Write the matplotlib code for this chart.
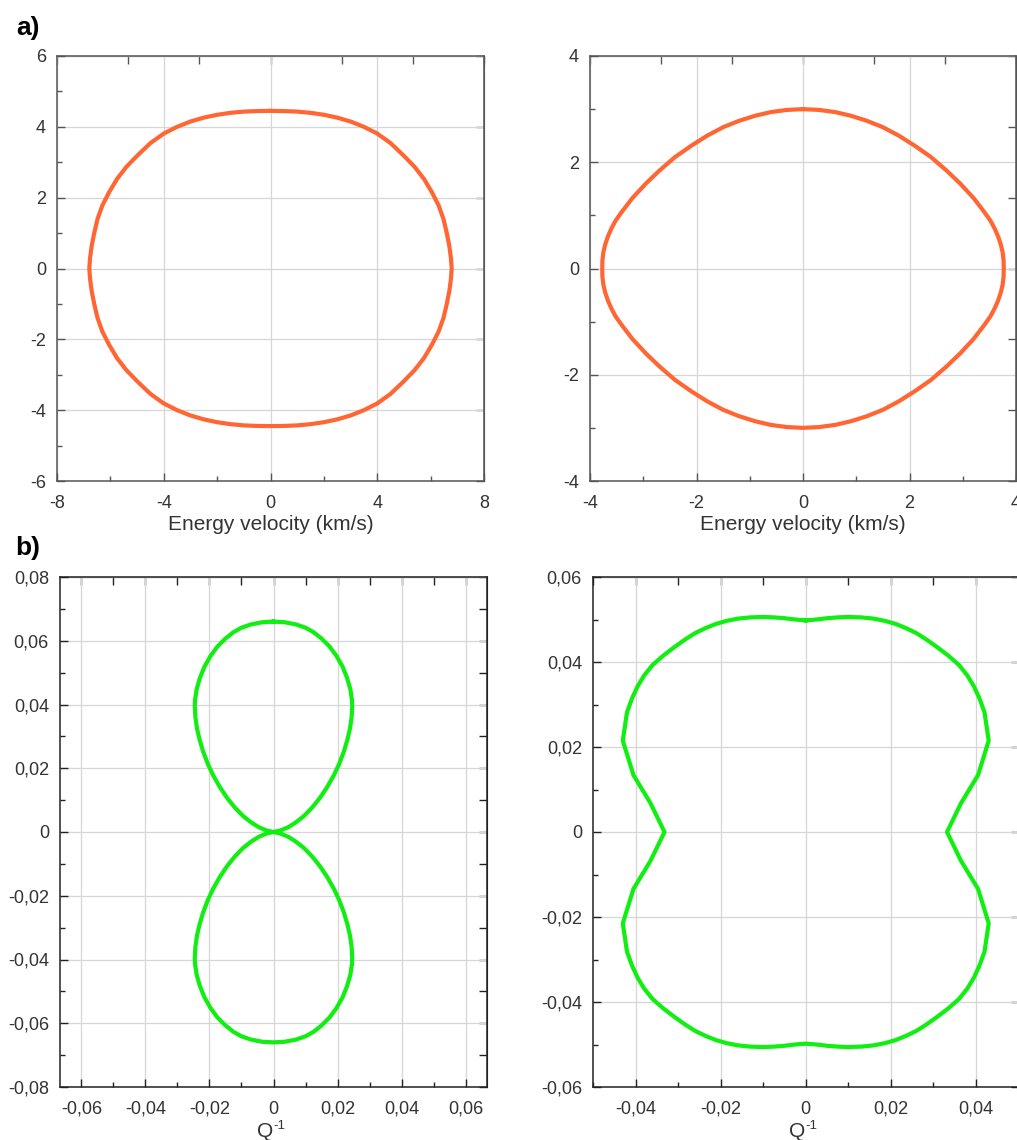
import numpy as np
import matplotlib
matplotlib.use("Agg")
import matplotlib.pyplot as plt
from matplotlib.ticker import MultipleLocator, NullFormatter

plt.rcParams['font.family'] = ['Liberation Sans', 'DejaVu Sans']
plt.rcParams['axes.unicode_minus'] = False

# figure size in pixels
W, H = 1017, 1140

# --- data (first quadrant, from top point down to the x axis) ---
# a) energy velocity, left panel (km/s)
vel_left_x = [0.0, 0.5, 1.0, 1.5, 2.0, 2.5, 3.0, 3.5, 4.0, 4.5, 5.0, 5.4, 5.75,
              6.05, 6.3, 6.48, 6.6, 6.7, 6.76, 6.79]
vel_left_y = [4.45, 4.445, 4.43, 4.395, 4.34, 4.26, 4.15, 4.0, 3.81, 3.54, 3.18, 2.87, 2.53,
              2.15, 1.78, 1.4, 1.02, 0.64, 0.3, 0.0]

# a) energy velocity, right panel (km/s)
vel_right_x = [0.0, 0.3, 0.6, 0.9, 1.2, 1.5, 1.8, 2.1, 2.4, 2.7, 2.95, 3.2, 3.4,
               3.52, 3.6, 3.665, 3.715, 3.75, 3.767, 3.77]
vel_right_y = [3.0, 2.985, 2.945, 2.875, 2.78, 2.66, 2.5, 2.31, 2.1, 1.84, 1.6, 1.33, 1.07,
               0.9, 0.75, 0.6, 0.45, 0.3, 0.15, 0.0]

# b) quality factor Q^-1, left panel (figure-eight, upper right half)
q_left_x = [0.0, 0.0036, 0.0071, 0.0100, 0.0125, 0.0150, 0.0175, 0.0197, 0.0216,
            0.0230, 0.0240, 0.0245, 0.0246, 0.0244, 0.0239, 0.0231, 0.0220, 0.0205,
            0.0188, 0.0167, 0.0145, 0.0121, 0.0096, 0.0071, 0.0046, 0.0022, 0.0]
q_left_y = [0.0660, 0.0658, 0.0651, 0.0641, 0.0627, 0.0607, 0.0582, 0.0552, 0.0518,
            0.0483, 0.0448, 0.0415, 0.0395, 0.0360, 0.0325, 0.0290, 0.0253, 0.0213,
            0.0177, 0.0140, 0.0107, 0.0077, 0.0051, 0.0031, 0.0015, 0.0005, 0.0]

# b) quality factor Q^-1, right panel
q_right_x = [0.0, 0.0025, 0.005, 0.0075, 0.010, 0.013, 0.016, 0.0185, 0.021, 0.0235,
             0.026, 0.0285, 0.031, 0.0335, 0.036, 0.038, 0.0395, 0.0408, 0.042,
             0.043, 0.0405, 0.0365, 0.0332]
q_right_y = [0.0498, 0.0500, 0.0503, 0.0505, 0.0506, 0.0505, 0.0502, 0.0497, 0.0490, 0.0480,
             0.0468, 0.0452, 0.0434, 0.0415, 0.0393, 0.0368, 0.0343, 0.0315, 0.0282,
             0.0215, 0.0134, 0.0068, 0.0]

# tick labels (decimal comma as in the original)
qa_x_ticks = [-0.06, -0.04, -0.02, 0, 0.02, 0.04, 0.06]
qa_x_labels = ['-0,06', '-0,04', '-0,02', '0', '0,02', '0,04', '0,06']
qa_y_ticks = [-0.08, -0.06, -0.04, -0.02, 0, 0.02, 0.04, 0.06, 0.08]
qa_y_labels = ['-0,08', '-0,06', '-0,04', '-0,02', '0', '0,02', '0,04', '0,06', '0,08']
qb_x_ticks = [-0.04, -0.02, 0, 0.02, 0.04]
qb_x_labels = ['-0,04', '-0,02', '0', '0,02', '0,04']
qb_y_ticks = [-0.06, -0.04, -0.02, 0, 0.02, 0.04, 0.06]
qb_y_labels = ['-0,06', '-0,04', '-0,02', '0', '0,02', '0,04', '0,06']

ORANGE = '#ff6633'
GREEN = '#11ee11'
LABEL_COLOR = '#333333'


def closed_loop(qx, qy):
    # the curves are symmetric about both axes: walk the four quadrants
    qx, qy = np.asarray(qx), np.asarray(qy)
    x = np.concatenate([qx, qx[::-1], -qx, -qx[::-1]])
    y = np.concatenate([qy, -qy[::-1], -qy, qy[::-1]])
    return x, y


def make_axes(fig, left, top, right, bottom):
    return fig.add_axes([left / W, 1 - bottom / H, (right - left) / W, (bottom - top) / H])


def style_axes(ax, spine_color, top_ticks, right_ticks):
    for s in ax.spines.values():
        s.set_color(spine_color)
        s.set_linewidth(1.1)
    ax.tick_params(which='both', direction='in', colors=spine_color, labelcolor=LABEL_COLOR,
                   labelsize=13, top=False, right=False)
    ax.tick_params(axis='x', which='both', pad=10)
    ax.tick_params(axis='y', which='both', pad=8)
    ax.tick_params(which='major', length=6, width=1)
    ax.tick_params(which='minor', length=3.3, width=1)
    ax.grid(True, which='major', color='#d6d6d6', lw=0.9)
    ax.set_axisbelow(True)

    sec_top = ax.secondary_xaxis('top')
    sec_top.set_xticks(top_ticks)
    sec_top.xaxis.set_major_formatter(NullFormatter())
    sec_top.tick_params(direction='in', length=6, width=1, colors=spine_color)
    sec_top.spines['top'].set_color(spine_color)

    sec_right = ax.secondary_yaxis('right')
    sec_right.set_yticks(right_ticks)
    sec_right.yaxis.set_major_formatter(NullFormatter())
    sec_right.tick_params(direction='in', length=6, width=1, colors=spine_color)
    sec_right.spines['right'].set_color(spine_color)


def q_label(ax, y_axes):
    # "Q" with a small raised "-1" (plain hyphen, as in the original)
    ax.text(0.5, y_axes, 'Q', transform=ax.transAxes, ha='right', va='center',
            fontsize=15, color=LABEL_COLOR)
    ax.text(0.5, y_axes + 0.011, '-1', transform=ax.transAxes, ha='left', va='center',
            fontsize=9.5, color=LABEL_COLOR)


fig = plt.figure(figsize=(W / 100, H / 100), dpi=100)

# a) left
ax1 = make_axes(fig, 57, 56, 484, 481)
x, y = closed_loop(vel_left_x, vel_left_y)
ax1.plot(x, y, color=ORANGE, lw=3, solid_joinstyle='round')
ax1.set_xlim(-8, 8)
ax1.set_ylim(-6, 6)
ax1.xaxis.set_major_locator(MultipleLocator(4))
ax1.xaxis.set_minor_locator(MultipleLocator(2))
ax1.yaxis.set_major_locator(MultipleLocator(2))
ax1.yaxis.set_minor_locator(MultipleLocator(1))
style_axes(ax1, '#555555', np.linspace(-8, 8, 7), np.linspace(-6, 6, 7))
ax1.set_xlabel('Energy velocity (km/s)', fontsize=15, color=LABEL_COLOR, labelpad=2)

# a) right
ax2 = make_axes(fig, 590, 56, 1016, 481)
x, y = closed_loop(vel_right_x, vel_right_y)
ax2.plot(x, y, color=ORANGE, lw=3, solid_joinstyle='round')
ax2.set_xlim(-4, 4)
ax2.set_ylim(-4, 4)
ax2.xaxis.set_major_locator(MultipleLocator(2))
ax2.xaxis.set_minor_locator(MultipleLocator(1))
ax2.yaxis.set_major_locator(MultipleLocator(2))
ax2.yaxis.set_minor_locator(MultipleLocator(1))
style_axes(ax2, '#555555', np.linspace(-4, 4, 7), np.linspace(-4, 4, 7))
ax2.set_xlabel('Energy velocity (km/s)', fontsize=15, color=LABEL_COLOR, labelpad=2)

# b) left
ax3 = make_axes(fig, 60, 577, 487, 1087)
x, y = closed_loop(q_left_x, q_left_y)
ax3.plot(x, y, color=GREEN, lw=3, solid_joinstyle='round')
ax3.set_xlim(-0.0667, 0.0667)
ax3.set_ylim(-0.08, 0.08)
ax3.set_xticks(qa_x_ticks, qa_x_labels)
ax3.set_yticks(qa_y_ticks, qa_y_labels)
ax3.xaxis.set_minor_locator(MultipleLocator(0.01))
ax3.yaxis.set_minor_locator(MultipleLocator(0.01))
style_axes(ax3, '#222222', np.arange(-6, 7) / 100, np.arange(-8, 9) / 100)
q_label(ax3, -0.087)

# b) right
ax4 = make_axes(fig, 593, 577, 1018.5, 1087)
x, y = closed_loop(q_right_x, q_right_y)
ax4.plot(x, y, color=GREEN, lw=3, solid_joinstyle='round')
ax4.set_xlim(-0.05, 0.05)
ax4.set_ylim(-0.06, 0.06)
ax4.set_xticks(qb_x_ticks, qb_x_labels)
ax4.set_yticks(qb_y_ticks, qb_y_labels)
ax4.xaxis.set_minor_locator(MultipleLocator(0.01))
ax4.yaxis.set_minor_locator(MultipleLocator(0.01))
style_axes(ax4, '#222222', np.arange(-5, 6) / 100, np.linspace(-0.06, 0.06, 7))
q_label(ax4, -0.087)

fig.text(28 / W, 1 - 28 / H, 'a)', fontsize=19, fontweight='bold', ha='center', va='center')
fig.text(28 / W, 1 - 548 / H, 'b)', fontsize=19, fontweight='bold', ha='center', va='center')

fig.savefig('out.png', dpi=100)
